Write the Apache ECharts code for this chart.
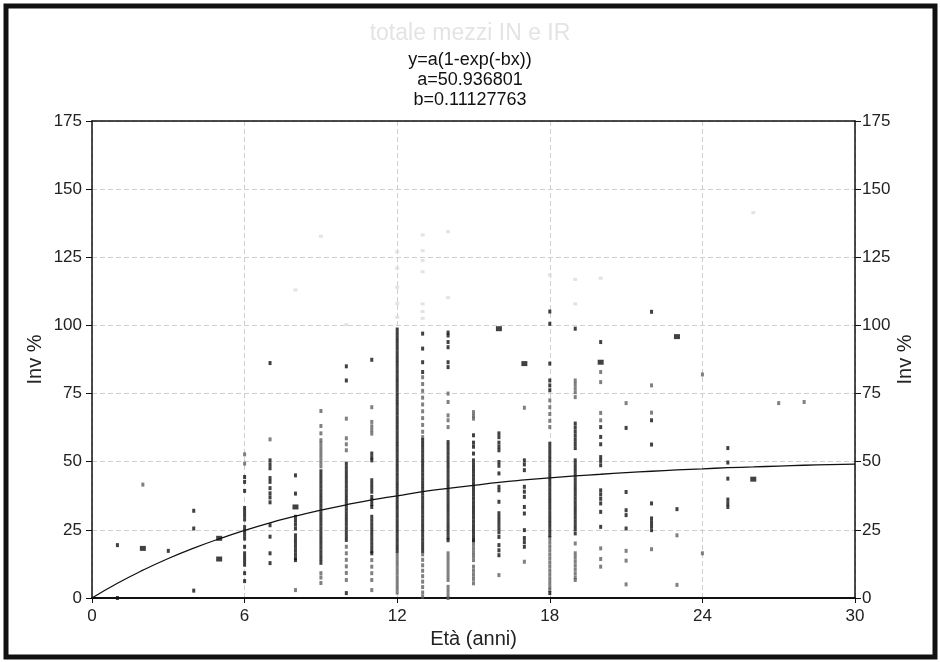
<!DOCTYPE html>
<html>
<head>
<meta charset="utf-8">
<script src="https://cdn.jsdelivr.net/npm/echarts@6/dist/echarts.min.js"></script>
<style>
  html, body { margin: 0; padding: 0; background: #fff; }
  #main { width: 940px; height: 662px; }
</style>
</head>
<body>
<div id="main"></div>
<script>
// fitted curve at every year
var curveX = [0, 1, 2, 3, 4, 5, 6, 7, 8, 9, 10, 11, 12, 13, 14, 15, 16, 17, 18, 19, 20, 21, 22, 23, 24, 25, 26, 27, 28, 29, 30];
var curveY = [0, 5.4, 10.2, 14.5, 18.3, 21.7, 24.8, 27.6, 30.0, 32.2, 34.2, 36.0, 37.5, 39.0, 40.2, 41.3, 42.4, 43.3, 44.1, 44.8, 45.4, 46.0, 46.5, 47.0, 47.4, 47.8, 48.1, 48.4, 48.7, 48.9, 49.1];

// points grouped by shade: [age, [values]]
var blackCols = [
  [1, [19.4, 0]],
  [3, [17.3]],
  [4, [32, 25.5, 2.7]],
  [6, [44.4, 42.6, 39.3, 33, 31.6, 30.2, 28.8, 26, 24.6, 23.2, 21.8, 18.8, 16.4, 15, 13.6, 12.2, 9.1, 6.2]],
  [7, [86.2, 50.5, 49, 47.6, 44, 42.6, 40.3, 38.4, 36.9, 35.1, 26.7, 22.5, 16.4, 12.8]],
  [8, [45, 38.3, 29.8, 28.4, 27, 25.5, 23, 21.6, 20.2, 18.8, 17.4, 16, 14.6, 13.9]],
  [9, [46.5, 45.1, 43.7, 42.3, 40.9, 39.5, 38.1, 36.7, 35.3, 33.9, 32.5, 31.1, 29.7, 28.3, 26.9, 25.5, 24.1, 22.7, 21.3, 19.9, 18.5, 17.1, 15.7, 14.3, 12.9]],
  [10, [85, 79.8, 49.3, 47.9, 46.5, 45.1, 43.7, 42.3, 40.9, 39.5, 38.1, 36.7, 35.3, 33.9, 32.5, 31.1, 29.7, 28.3, 26.9, 25.5, 24.1, 22.7, 21.3, 1.8]],
  [11, [87.4, 53, 51.6, 50.5, 43.2, 41.8, 40.4, 39, 37.1, 35.9, 34.5, 33.4, 29.8, 28.4, 27, 25.6, 24.2, 22.8, 21.4, 20, 18.6, 17.2, 16.4]],
  [12, [98.5, 97.1, 95.7, 94.3, 92.9, 91.5, 90.1, 88.7, 87.3, 85.9, 84.5, 83.1, 81.7, 80.3, 78.9, 77.5, 76.1, 74.7, 73.3, 71.9, 70.5, 69.1, 67.7, 66.3, 64.9, 63.5, 62.1, 60.7, 59.3, 57.9, 56.5, 55.1, 53.7, 52.3, 50.9, 49.5, 48.1, 46.7, 45.3, 43.9, 42.5, 41.1, 39.7, 38.3, 36.9, 35.5, 34.1, 32.7, 31.3, 29.9, 28.5, 27.1, 25.7, 24.3, 22.9, 21.5, 20.1, 18.7, 17.3]],
  [13, [97, 91.5, 86.5, 82.9, 57.9, 56.5, 55.1, 53.7, 52.3, 50.9, 49.5, 48.1, 46.7, 45.3, 43.9, 42.5, 41.1, 39.7, 38.3, 36.9, 35.5, 34.1, 32.7, 31.3, 29.9, 28.5, 27.1, 25.7, 24.3, 22.9, 21.5, 20.1, 18.7, 17.3]],
  [14, [97.4, 96.3, 93.9, 92, 86.5, 84.7, 57.2, 55.8, 54.4, 53, 51.6, 50.2, 48.8, 47.4, 46, 44.6, 43.2, 41.8, 40.4, 39, 37.6, 36.2, 34.8, 33.4, 32, 30.6, 29.2, 27.8, 26.4, 25, 23.6, 22.2, 21.2]],
  [15, [59.7, 57, 55.5, 53, 50.5, 49.1, 47.7, 46.3, 44.9, 43.5, 42.1, 40.7, 39.3, 37.9, 36.5, 35.1, 33.7, 32.3, 30.9, 29.5, 28.1, 26.7, 25.3, 23.9, 22.5, 21.2]],
  [16, [60.4, 59, 57, 55.5, 54.2, 49.9, 48.5, 45.7, 40.8, 39.5, 35.3, 31.1, 29.7, 28.3, 26.9, 25.5, 24.1, 22.4, 19.4, 17.5, 15.7]],
  [17, [50.5, 49, 46.9, 40.8, 39, 37.1, 33.4, 31, 24.9, 22, 20.5, 18.8]],
  [18, [105.1, 100.6, 86, 79.8, 78, 76.2, 56.6, 55.2, 53.8, 52.4, 51, 49.6, 48.2, 46.8, 45.4, 44, 42.6, 41.2, 39.8, 38.4, 37, 35.6, 34.2, 32.8, 31.4, 30, 28.6, 27.2, 25.8, 24.4, 23, 1.8]],
  [19, [98.8, 64, 62.5, 61, 59.5, 58, 56.5, 55, 50.5, 49.1, 47.7, 46.3, 44.9, 43.5, 42.1, 40.7, 39.3, 37.9, 36.5, 35.1, 33.7, 32.3, 30.9, 29.5, 28.1, 26.7, 25.3, 23.7]],
  [20, [93.9, 62.7, 59.1, 56.4, 51.7, 50.3, 48.7, 39.5, 38, 36.4, 34.7, 31.6, 26.1]],
  [21, [62.4, 38.9, 32.2, 30.4, 25.5]],
  [22, [105, 65.2, 56.3, 34.7, 29.2, 27.8, 26.4, 24.9]],
  [23, [32.6]],
  [25, [55, 49.7, 43.8, 36.1, 34.7, 33.4]]
];
var grayCols = [
  [2, [41.6]],
  [6, [52.7, 49.3]],
  [7, [58.2]],
  [8, [2.9]],
  [9, [68.6, 63.1, 60.4, 57.9, 56.7, 55.3, 53.9, 52.5, 51.1, 49.7, 48.3, 9.1, 7.5, 5.5]],
  [10, [65.8, 58.6, 56.4, 54.2, 18.8, 16.4, 14, 11.6, 9.2, 6.6]],
  [11, [70, 64.6, 63, 61.6, 60.3, 13.9, 11.5, 9.1, 6.6, 2.9]],
  [12, [16, 14.6, 13.2, 11.8, 10.4, 9, 7.6, 6.2, 4.8, 3.4, 2]],
  [13, [81, 78.5, 76, 73.5, 71, 68.5, 66, 63.5, 61, 59, 16, 14, 12, 10, 8, 6, 4, 2, 0.5]],
  [14, [75, 71.9, 67, 65.2, 62.7, 16.4, 15, 13.6, 12.2, 10.8, 9.4, 8, 6.6, 4.1, 2.7, 1.3, 0]],
  [15, [68.2, 66.8, 65.8, 21, 19.6, 18.2, 16.8, 15.4, 13.9, 11.5, 10, 8.5, 7, 5.4]],
  [16, [8.4]],
  [17, [69.8, 13.3]],
  [18, [72.5, 70, 67.5, 65, 62.7, 22, 20.5, 19, 17.5, 16, 14.5, 13, 11.5, 10, 8.5, 7, 5.5, 4, 2.9]],
  [19, [79.8, 78.5, 77, 75.5, 73.7, 20, 16.4, 15, 13.5, 12, 10.5, 9, 7.5, 6.6]],
  [20, [82.9, 79.2, 67.9, 65.2, 18.2, 14.3, 11.5]],
  [21, [71.5, 17.3, 13.7, 5]],
  [22, [78, 68, 17.9]],
  [23, [23, 4.8]],
  [24, [82, 16.4]],
  [27, [71.5]],
  [28, [71.9]]
];
var lightCols = [
  [8, [113]],
  [9, [132.7]],
  [10, [100.3]],
  [12, [103, 108, 114, 121, 127]],
  [13, [133.2, 127.4, 123.8, 119.7, 107.9, 105.1, 102.6]],
  [14, [134.4, 110.2]],
  [18, [118.5]],
  [19, [116.9, 107.9]],
  [20, [117.3]],
  [26, [141.4]]
];
var bigCols = [
  [2, [18.2]],
  [5, [21.9, 14.3]],
  [8, [33.4]],
  [16, [98.8]],
  [17, [86]],
  [20, [86.5]],
  [23, [95.9]],
  [26, [43.6]]
];
var yTicks = [0, 25, 50, 75, 100, 125, 150, 175];

function flat(cols) {
  var out = [];
  for (var i = 0; i < cols.length; i++) {
    for (var j = 0; j < cols[i][1].length; j++) {
      out.push([cols[i][0], cols[i][1][j]]);
    }
  }
  return out;
}

var curveData = [];
for (var k = 0; k < curveX.length; k++) curveData.push([curveX[k], curveY[k]]);

var font = "'Liberation Sans', Arial, sans-serif";
var yAxisBase = function (pos) {
  var left = pos === "left";
  return {
    type: "value",
    position: pos,
    min: yTicks[0],
    max: yTicks[yTicks.length - 1],
    interval: 25,
    name: "Inv %",
    nameLocation: "middle",
    nameGap: left ? 47 : 40,
    nameMoveOverlap: false,
    nameTextStyle: { color: "#222", fontSize: 20, fontFamily: font },
    axisLine: { show: true, onZero: false, lineStyle: { color: "#111", width: 1.5 } },
    axisTick: { show: true, length: 6, lineStyle: { color: "#111" } },
    axisLabel: { color: "#222", fontSize: 17, fontFamily: font, margin: left ? 10 : 7 },
    splitLine: { show: left, lineStyle: { color: "#cfcfcf", type: [5, 3] } }
  };
};

var myChart = echarts.init(document.getElementById("main"));
var option = {
  backgroundColor: "#fff",
  animation: false,
  title: {
    text: "totale mezzi IN e IR",
    subtext: "y=a(1-exp(-bx))\na=50.936801\nb=0.11127763",
    left: "center",
    top: 17,
    itemGap: 5,
    textStyle: { color: "#e4e4e4", fontSize: 23, fontWeight: "normal", fontFamily: font },
    subtextStyle: { color: "#111", fontSize: 18, lineHeight: 20, fontFamily: font }
  },
  graphic: [{
    type: "rect",
    shape: { x: 6, y: 6, width: 929, height: 651 },
    style: { fill: null, stroke: "#111", lineWidth: 5 }
  }],
  grid: {
    left: 92, right: 85, top: 121, bottom: 64
  },
  xAxis: [{
    type: "value",
    min: 0,
    max: 30,
    interval: 6,
    name: "Età (anni)",
    nameLocation: "middle",
    nameGap: 17,
    nameTextStyle: { color: "#222", fontSize: 20, fontFamily: font },
    axisLine: { show: true, onZero: false, lineStyle: { color: "#111", width: 2 } },
    axisTick: { show: true, length: 5, lineStyle: { color: "#111" } },
    axisLabel: { color: "#222", fontSize: 17, fontFamily: font, margin: 10 },
    splitLine: { show: true, lineStyle: { color: "#cfcfcf", type: [5, 3] } }
  }, {
    // top frame line of the plot
    type: "value",
    position: "top",
    min: 0,
    max: 30,
    interval: 6,
    axisLine: { show: true, onZero: false, lineStyle: { color: "#111", width: 1.5 } },
    axisTick: { show: false },
    axisLabel: { show: false },
    splitLine: { show: false }
  }],
  yAxis: [yAxisBase("left"), yAxisBase("right")],
  series: [
    {
      type: "scatter", data: flat(lightCols), symbol: "rect", symbolSize: [4, 3],
      itemStyle: { color: "#dcdcdc" }, silent: true
    },
    {
      type: "scatter", data: flat(grayCols), symbol: "rect", symbolSize: [3, 4],
      itemStyle: { color: "#606060" }, silent: true
    },
    {
      type: "scatter", data: flat(blackCols), symbol: "rect", symbolSize: [3, 4],
      itemStyle: { color: "#111" }, silent: true
    },
    {
      type: "scatter", data: flat(bigCols), symbol: "rect", symbolSize: [6, 5],
      itemStyle: { color: "#111" }, silent: true
    },
    {
      type: "line", data: curveData, smooth: true, showSymbol: false,
      lineStyle: { color: "#111", width: 1.3 }, silent: true, z: 5
    }
  ]
};
myChart.setOption(option);
</script>
</body>
</html>
